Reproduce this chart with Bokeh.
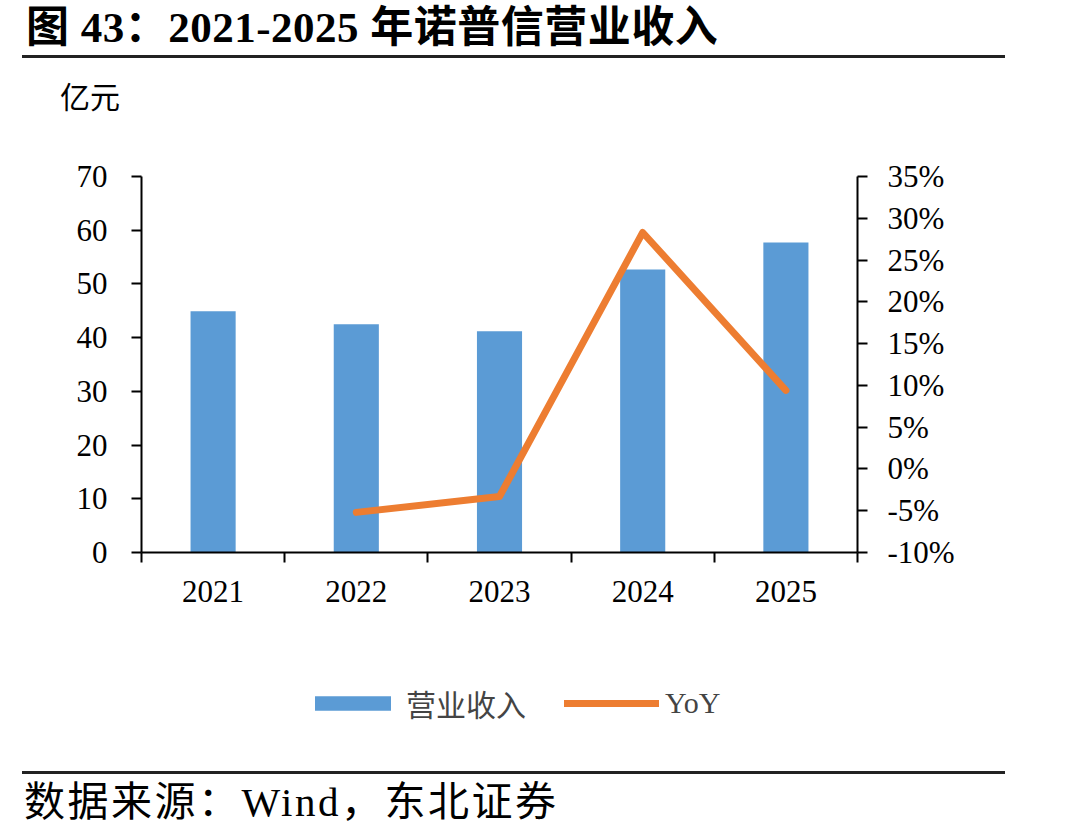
from bokeh.plotting import figure
from bokeh.models import (ColumnDataSource, Range1d, LinearAxis, FixedTicker, PrintfTickFormatter,
                          Legend, LegendItem, Div)
from bokeh.layouts import column
from bokeh.embed import file_html
from bokeh.resources import INLINE

# ---- data ----
years = ["2021", "2022", "2023", "2024", "2025"]
revenue = [44.9, 42.5, 41.2, 52.7, 57.7]          # 亿元
yoy = [None, -5.2, -3.3, 28.3, 9.4]                # %
left_ticks = [0, 10, 20, 30, 40, 50, 60, 70]
right_ticks = [-10, -5, 0, 5, 10, 15, 20, 25, 30, 35]

title_text = "图 43：2021-2025 年诺普信营业收入"
unit_text = "亿元"
source_text = "数据来源：Wind，东北证券"
bar_name = "营业收入"
line_name = "YoY"

BLUE = "#5B9BD5"
ORANGE = "#ED7D31"
SERIF = "Liberation Serif, Noto Sans CJK SC"
CSS_FONT = "'Liberation Serif', 'Noto Sans CJK SC', serif"

W, H = 1090, 838
TOP_H = 130          # header block height
LEG_Y = 650          # legend block start
FOOT_Y = 765         # footer block start
FL, FT, FR, FB = 141, 176, 857, 552   # frame edges in page px

# ---- header ----
header = Div(width=W, height=TOP_H, margin=0, text=f"""
<div style="position:relative;width:{W}px;height:{TOP_H}px;">
  <div style="position:absolute;left:26px;top:6px;font-family:{CSS_FONT};font-weight:bold;
              font-size:43px;line-height:43px;letter-spacing:0.5px;white-space:nowrap;color:#000;">{title_text}</div>
  <div style="position:absolute;left:22px;top:55px;width:983px;height:3px;background:#222;"></div>
  <div style="position:absolute;left:60px;top:83px;font-family:{CSS_FONT};
              font-size:30px;line-height:30px;white-space:nowrap;color:#000;">{unit_text}</div>
</div>""")

# ---- chart ----
p = figure(width=W, height=LEG_Y - TOP_H, output_backend="svg", toolbar_location=None,
           x_range=Range1d(0, len(years)), y_range=Range1d(0, 70),
           min_border_left=FL, min_border_right=W - FR,
           min_border_top=FT - TOP_H, min_border_bottom=LEG_Y - FB, margin=0)
p.outline_line_color = None
p.grid.visible = False
p.extra_y_ranges = {"yoy": Range1d(-10, 35)}

xs = [i + 0.5 for i in range(len(years))]
bar_src = ColumnDataSource(dict(x=xs, top=revenue))
p.vbar(x="x", top="top", width=0.315, source=bar_src, fill_color=BLUE, line_color=None)

lx = [xs[i] for i in range(len(years)) if yoy[i] is not None]
ly = [v for v in yoy if v is not None]
line_src = ColumnDataSource(dict(x=lx, y=ly))
p.line(x="x", y="y", source=line_src, y_range_name="yoy", line_color=ORANGE,
       line_width=7, line_cap="round", line_join="round")

xa = p.xaxis[0]
xa.ticker = FixedTicker(ticks=xs, minor_ticks=[float(i) for i in range(len(years) + 1)])
xa.major_label_overrides = {x: y for x, y in zip(xs, years)}
xa.major_tick_in = 0
xa.major_tick_out = 0
xa.minor_tick_in = 0
xa.minor_tick_out = 10
xa.major_label_standoff = 18

ya = p.yaxis[0]
ya.ticker = FixedTicker(ticks=left_ticks)
ya.major_tick_in = 0
ya.major_tick_out = 10
ya.minor_tick_in = 0
ya.minor_tick_out = 0
ya.major_label_standoff = 24

ra = LinearAxis(y_range_name="yoy", ticker=FixedTicker(ticks=right_ticks),
                formatter=PrintfTickFormatter(format="%d%%"))
ra.major_tick_in = 0
ra.major_tick_out = 10
ra.minor_tick_in = 0
ra.minor_tick_out = 0
ra.major_label_standoff = 20
p.add_layout(ra, "right")

for ax in (xa, ya, ra):
    ax.axis_line_color = "black"
    ax.axis_line_width = 2
    ax.major_tick_line_color = "black"
    ax.major_tick_line_width = 2
    ax.minor_tick_line_color = "black"
    ax.minor_tick_line_width = 2
    ax.major_label_text_font = "Liberation Serif"
    ax.major_label_text_font_size = "31px"
    ax.major_label_text_color = "black"

# ---- legend block: a small figure (frame aligned with the chart's frame) ----
lg = figure(width=W, height=FOOT_Y - LEG_Y, output_backend="svg", toolbar_location=None,
            x_range=Range1d(100, 101), y_range=Range1d(100, 101),
            x_axis_location=None, y_axis_location=None,
            min_border_left=FL, min_border_right=W - FR, min_border_top=0, min_border_bottom=0,
            margin=0)
lg.outline_line_color = None
lg.grid.visible = False
# same data sources; the view window is set away from them so only the legend shows
lbar = lg.vbar(x="x", top="top", width=0.315, source=bar_src, fill_color=BLUE, line_color=None)
lline = lg.line(x="x", y="y", source=line_src, line_color=ORANGE, line_width=7, line_cap="round")
legend = Legend(items=[LegendItem(label=bar_name, renderers=[lbar]),
                       LegendItem(label=line_name, renderers=[lline])],
                orientation="horizontal", location=(164, 40),
                glyph_width=95, glyph_height=18, label_standoff=6, spacing=38,
                padding=0, margin=0, border_line_color=None, background_fill_alpha=0,
                label_text_font=SERIF, label_text_font_size="30px")
lg.add_layout(legend, "center")

# ---- footer ----
footer = Div(width=W, height=H - FOOT_Y, margin=0, text=f"""
<div style="position:relative;width:{W}px;height:{H - FOOT_Y}px;">
  <div style="position:absolute;left:22px;top:6px;width:983px;height:3px;background:#222;"></div>
  <div style="position:absolute;left:24px;top:17px;font-family:{CSS_FONT};
              font-size:41px;line-height:41px;letter-spacing:2.5px;white-space:nowrap;color:#000;">{source_text}</div>
</div>""")

page = column(header, p, lg, footer, spacing=0, margin=0)
open("out.html", "w").write(file_html(page, INLINE))
